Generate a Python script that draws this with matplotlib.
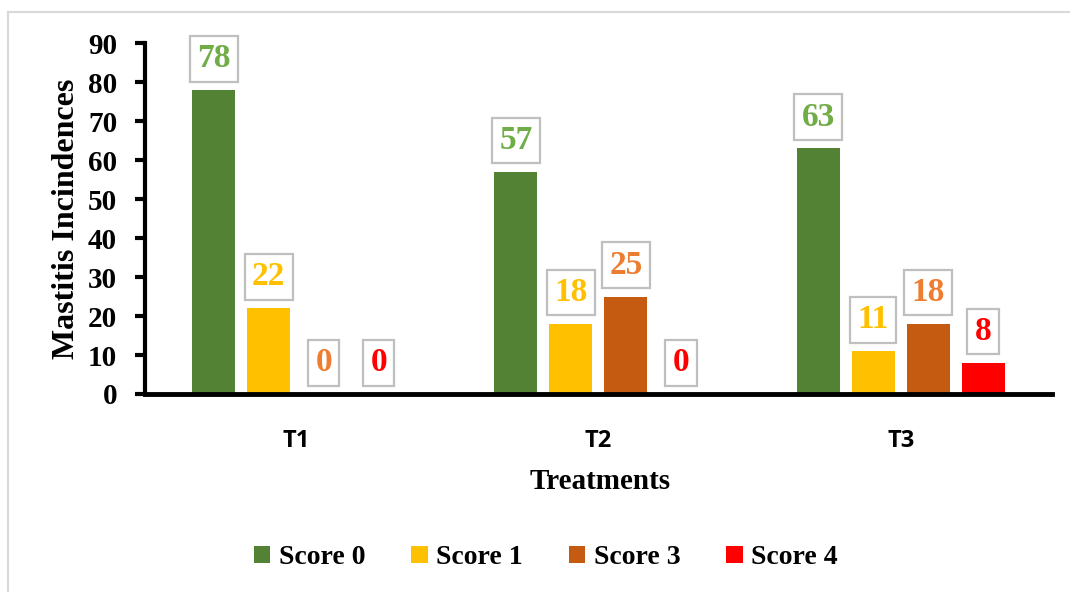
import matplotlib
matplotlib.use("Agg")
import matplotlib.pyplot as plt
from matplotlib.lines import Line2D
from matplotlib.patches import Patch
import numpy as np

# Mastitis incidence per treatment and score
treatments = ["T1", "T2", "T3"]
score_names = ["Score 0", "Score 1", "Score 3", "Score 4"]
score0 = [78, 57, 63]
score1 = [22, 18, 11]
score3 = [0, 25, 18]
score4 = [0, 0, 8]

bar_colors = ["#548235", "#FFC000", "#C55A11", "#FF0000"]
label_colors = ["#70AD47", "#FFC000", "#ED7D31", "#FF0000"]

serif = ["Liberation Serif", "DejaVu Serif"]

fig = plt.figure(figsize=(10.7, 5.92), dpi=100)
ax = fig.add_axes([0.1355, 0.3345, 0.983 - 0.1355, 0.927 - 0.3345])

x = np.arange(len(treatments))
step = 0.182
width = 0.142
series = [score0, score1, score3, score4]
for i, (vals, bc, lc) in enumerate(zip(series, bar_colors, label_colors)):
    pos = x + (i - 1.5) * step
    ax.bar(pos, vals, width=width, color=bc, edgecolor="none", zorder=2)
    for px, v in zip(pos, vals):
        ax.annotate(str(v), xy=(px, v), xytext=(0, 22.5), textcoords="offset points",
                    ha="center", va="center", fontsize=24, fontweight="bold",
                    family=serif, color=lc, zorder=3,
                    bbox=dict(boxstyle="square,pad=0.22", fc="white",
                              ec="#BFBFBF", lw=1.6))

ax.set_xlim(-0.5, 2.5)
ax.set_ylim(0, 90)
ax.set_yticks(np.arange(0, 91, 10))
ax.set_xticks(x)
ax.set_xticklabels(treatments, family=["Open Sans", "DejaVu Sans"],
                   fontweight="bold", fontsize=17)
for lab in ax.get_yticklabels():
    lab.set_family(serif)
    lab.set_fontweight("bold")
    lab.set_fontsize(21)
ax.tick_params(axis="y", length=7, width=3, pad=13, direction="out")
ax.tick_params(axis="x", length=0, pad=25)

for s in ("top", "right"):
    ax.spines[s].set_visible(False)
ax.spines["left"].set_linewidth(3)
ax.spines["bottom"].set_linewidth(3.5)

ax.set_ylabel("Mastitis Incindences", family=serif, fontweight="bold",
              fontsize=23, labelpad=5)
fig.text(0.561, 0.187, "Treatments", family=serif, fontweight="bold",
         fontsize=21, ha="center", va="center")

handles = [Patch(facecolor=c, edgecolor="none") for c in bar_colors]
fig.legend(handles, score_names, loc="center", bbox_to_anchor=(0.51, 0.058),
           ncol=4, frameon=False, handlelength=0.6, handleheight=0.6,
           handletextpad=0.3, columnspacing=1.65,
           prop={"family": serif, "weight": "bold", "size": 20})

# light frame around the chart area
fig.add_artist(Line2D([8 / 1070, 8 / 1070], [0, 1 - 12 / 592],
                      color="#D9D9D9", lw=1.5, transform=fig.transFigure))
fig.add_artist(Line2D([8 / 1070, 1], [1 - 12 / 592, 1 - 12 / 592],
                      color="#D9D9D9", lw=1.5, transform=fig.transFigure))

fig.savefig("out.png", dpi=100, facecolor="white")
